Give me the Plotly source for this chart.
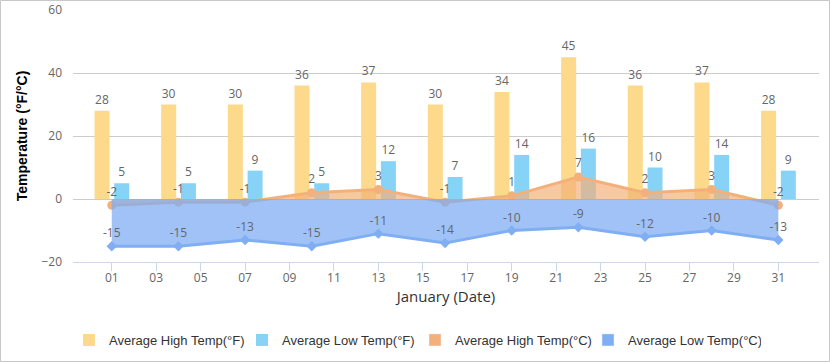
import plotly.graph_objects as go

days = [1, 4, 7, 10, 13, 16, 19, 22, 25, 28, 31]
high_f = [28, 30, 30, 36, 37, 30, 34, 45, 36, 37, 28]
low_f = [5, 5, 9, 5, 12, 7, 14, 16, 10, 14, 9]
high_c = [-2, -1, -1, 2, 3, -1, 1, 7, 2, 3, -2]
low_c = [-15, -15, -13, -15, -11, -14, -10, -9, -12, -10, -13]
tick_days = list(range(1, 32, 2))
tick_labels = [f"{d:02d}" for d in tick_days]

LABEL_FONT = dict(family="Open Sans", size=12, color="#666666")
C_HF, C_LF, C_HC, C_LC = "#fcd98b", "#87d3f8", "#f4b07b", "#80aef3"

fig = go.Figure()
fig.add_trace(go.Bar(
    x=days, y=high_f, name="Average High Temp(°F)",
    marker=dict(color=C_HF, line=dict(width=0)),
    width=0.675, offset=-0.776,
    text=[str(v) for v in high_f], textposition="outside", textfont=LABEL_FONT,
    cliponaxis=False, hoverinfo="skip",
))
fig.add_trace(go.Bar(
    x=days, y=low_f, name="Average Low Temp(°F)",
    marker=dict(color=C_LF, line=dict(width=0)),
    width=0.675, offset=0.1125,
    text=[str(v) for v in low_f], textposition="outside", textfont=LABEL_FONT,
    cliponaxis=False, hoverinfo="skip",
))
fig.add_trace(go.Scatter(
    x=days, y=high_c, name="Average High Temp(°C)",
    mode="lines+markers+text", showlegend=False,
    line=dict(color=C_HC, width=3),
    marker=dict(color=C_HC, size=9, symbol="circle"),
    fill="tozeroy", fillcolor="rgba(244,176,123,0.7)",
    text=[str(v) for v in high_c], textposition="top center", textfont=LABEL_FONT,
    cliponaxis=False, hoverinfo="skip",
))
fig.add_trace(go.Scatter(
    x=days, y=low_c, name="Average Low Temp(°C)",
    mode="lines+markers+text", showlegend=False,
    line=dict(color=C_LC, width=3),
    marker=dict(color=C_LC, size=8, symbol="diamond"),
    fill="tozeroy", fillcolor="rgba(128,174,243,0.75)",
    text=[str(v) for v in low_c], textposition="top center", textfont=LABEL_FONT,
    cliponaxis=False, hoverinfo="skip",
))
# legend keys (square swatches) for the two area/line series
for nm, col in [("Average High Temp(°C)", C_HC), ("Average Low Temp(°C)", C_LC)]:
    fig.add_trace(go.Bar(x=[None], y=[None], name=nm, marker=dict(color=col), hoverinfo="skip"))

L, R, T, B = 73, 11, 10, 100
W, H = 830, 362
pw, ph = W - L - R, H - T - B

fig.update_layout(
    width=W, height=H,
    margin=dict(l=L, r=R, t=T, b=B, autoexpand=False),
    paper_bgcolor="white", plot_bgcolor="white",
    barmode="overlay",
    showlegend=True,
    legend=dict(
        orientation="h", xref="container", yref="container",
        x=0.5, xanchor="center", y=1 - 340 / H, yanchor="middle",
        font=dict(family="Liberation Sans", size=13, color="#333333"),
        itemwidth=30, traceorder="normal",
        entrywidth=128, entrywidthmode="pixels",
    ),
    xaxis=dict(
        type="linear", range=[-0.745, 32.83], automargin=False,
        tickmode="array", tickvals=tick_days, ticktext=tick_labels,
        showgrid=False, zeroline=False,
        showline=True, linecolor="#ccd6eb", linewidth=1,
        ticks="outside", tickcolor="#ccd6eb", ticklen=8, ticklabelstandoff=-3,
        tickfont=dict(family="Open Sans", size=12, color="#666666"),
        title=dict(text="January (Date)", font=dict(family="Open Sans", size=15, color="#333333"), standoff=6),
    ),
    yaxis=dict(
        range=[-20, 60], dtick=20, tick0=0, automargin=False,
        showgrid=True, gridcolor="#cccccc", gridwidth=1,
        zeroline=False, showline=False,
        ticks="", ticklabelstandoff=10,
        tickfont=dict(family="Open Sans", size=12, color="#666666"),
        title=dict(text="<b>Temperature (°F/°C)</b>", font=dict(family="Liberation Sans", size=14, color="#000000"), standoff=10),
    ),
    shapes=[dict(
        type="rect", xref="paper", yref="paper",
        x0=(0.5 - L) / pw, x1=(W - 0.5 - L) / pw,
        y0=(H - B - (H - 0.5)) / ph, y1=(H - B - 0.5) / ph,
        line=dict(color="#c8c8c8", width=1), layer="above",
    )],
)

fig.write_html(
    "out.html",
    config={"displayModeBar": False},
    post_script="document.body.style.margin='0';document.body.style.overflow='hidden';",
)
